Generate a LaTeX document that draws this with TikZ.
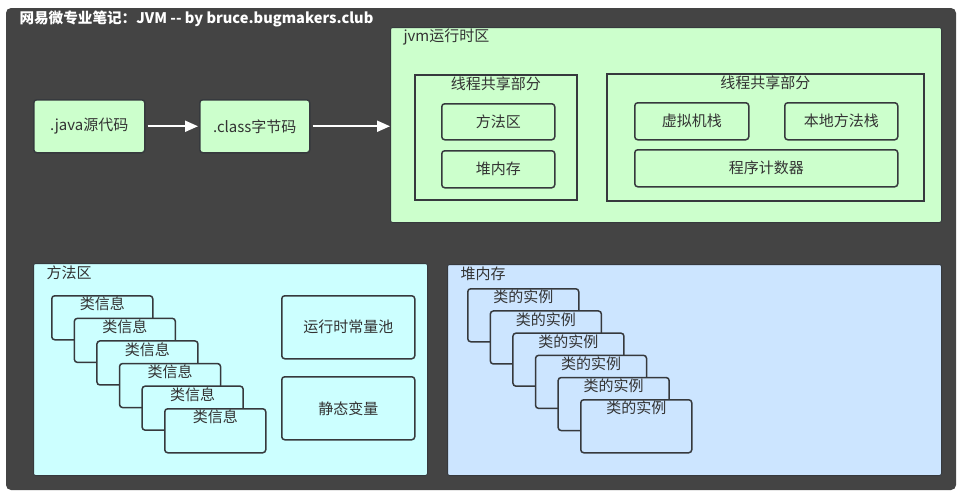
\documentclass[tikz,border=0pt]{standalone}
\usepackage{fontspec}
\setmainfont{Noto Sans CJK SC}
\usetikzlibrary{arrows.meta}

\definecolor{bgdark}{HTML}{444444}
\definecolor{linegray}{HTML}{36393D}
\definecolor{txtgray}{HTML}{333333}
\definecolor{greenbox}{HTML}{CCFFCC}
\definecolor{cyanbox}{HTML}{CCFFFF}
\definecolor{bluebox}{HTML}{CCE5FF}

\begin{document}
\begin{tikzpicture}[x=1pt, y=-1pt,
  every node/.style={font=\fontsize{15}{17}\selectfont, text=txtgray},
  box/.style={draw=linegray, line width=1.5pt, rounded corners=3pt, anchor=north west, inner sep=0pt},
  frame/.style={draw=linegray, line width=1.5pt, anchor=north west, inner sep=0pt},
  area/.style={draw=linegray, line width=1pt, rounded corners=2pt, anchor=north west, inner sep=0pt},
  flow/.style={draw=white, line width=2pt, -{Triangle[length=13pt, width=11pt]}, shorten <=2pt}]
  \fill [white] (0, 0) rectangle (963, 496);
  \fill [bgdark, rounded corners=5pt] (6, 8) rectangle (956, 490);
  \node [anchor=west, text=white, font=\bfseries\fontsize{14.6}{17}\selectfont] (title) at (16, 19) {网易微专业笔记：JVM {-}{-} by bruce.bugmakers.club};

  % compile path
  \node [box, fill=greenbox, minimum width=111pt, minimum height=53pt] (java) at (33, 99) {.java源代码};
  \node [box, fill=greenbox, minimum width=110pt, minimum height=53pt] (class) at (199, 99) {.class字节码};

  % runtime area
  \node [area, fill=greenbox, minimum width=551pt, minimum height=195pt] (jvm) at (390, 27) {};
  \node [anchor=west] at ([shift={(10, 10)}] jvm.north west) {jvm运行时区};
  \node [frame, minimum width=162pt, minimum height=125pt] (shared) at (414, 74) {};
  \node [below, inner sep=3pt] at (shared.north) {线程共享部分};
  \node [box, minimum width=113pt, minimum height=36pt] (method) at (441, 103) {方法区};
  \node [box, minimum width=113pt, minimum height=37pt] (heap) at (441, 150) {堆内存};
  \node [frame, minimum width=317pt, minimum height=127pt] (private) at (606, 73) {};
  \node [below, inner sep=3pt] at (private.north) {线程共享部分};
  \node [box, minimum width=114pt, minimum height=37pt] (vmstack) at (634, 102) {虚拟机栈};
  \node [box, minimum width=113pt, minimum height=37pt] (nativestack) at (784, 102) {本地方法栈};
  \node [box, minimum width=263pt, minimum height=37pt] (pc) at (634, 149) {程序计数器};

  \draw [flow, shorten >=1pt] (java) -- (class);
  \draw [flow] (class.east) -- (class.east -| jvm.west);

  % method area
  \node [area, fill=cyanbox, minimum width=394pt, minimum height=212pt] (methodarea) at (33, 263) {};
  \node [anchor=west] at ([shift={(10, 10)}] methodarea.north west) {方法区};
  \foreach \i in {0, ..., 5} {
    \node [box, fill=cyanbox, minimum width=101pt, minimum height=44pt] (info\i) at ({51 + 22.6*\i}, {295 + 22.6*\i}) {};
    \node [below, inner sep=2pt] at (info\i.north) {类信息};
  }
  \node [box, minimum width=133pt, minimum height=63pt] (pool) at (281, 295) {运行时常量池};
  \node [box, minimum width=133pt, minimum height=63pt] (static) at (281, 376) {静态变量};

  % heap
  \node [area, fill=bluebox, minimum width=494pt, minimum height=211pt] (heaparea) at (447, 264) {};
  \node [anchor=west] at ([shift={(10, 10)}] heaparea.north west) {堆内存};
  \foreach \i in {0, ..., 5} {
    \node [box, fill=bluebox, minimum width=111pt, minimum height=53pt] (obj\i) at ({467 + 22.6*\i}, {288 + 22.2*\i}) {};
    \node [below, inner sep=2pt] at (obj\i.north) {类的实例};
  }
\end{tikzpicture}
\end{document}
